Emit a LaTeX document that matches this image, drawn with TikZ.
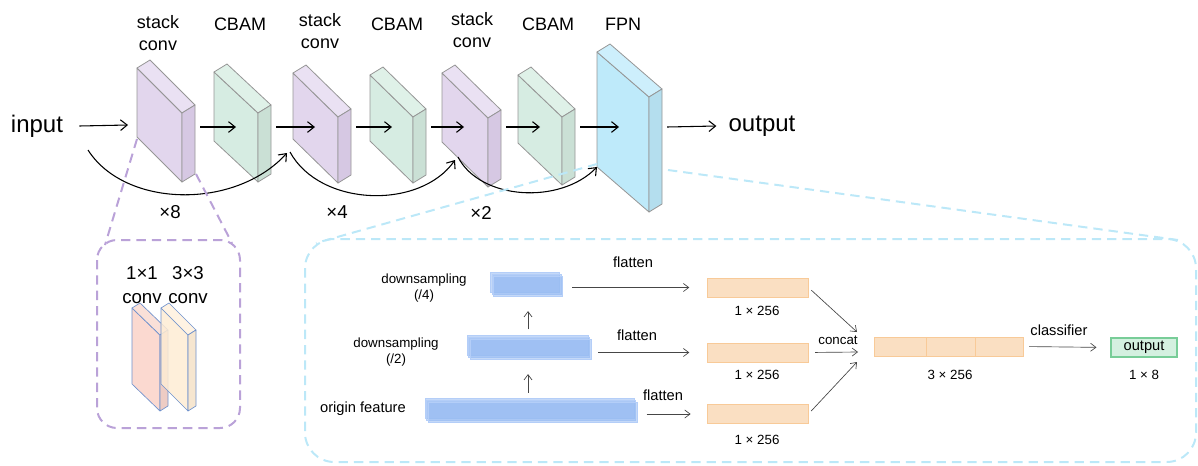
\documentclass[tikz,border=0pt]{standalone}
\usepackage{fontspec}
\setmainfont{Liberation Sans}
\usetikzlibrary{arrows.meta}

\definecolor{purF}{RGB}{226,214,237}
\definecolor{purT}{RGB}{234,225,243}
\definecolor{purS}{RGB}{214,200,227}
\definecolor{grnF}{RGB}{214,236,226}
\definecolor{grnT}{RGB}{223,241,232}
\definecolor{grnS}{RGB}{202,224,213}
\definecolor{bluF}{RGB}{190,234,250}
\definecolor{bluT}{RGB}{205,239,252}
\definecolor{bluS}{RGB}{180,222,238}
\definecolor{pnkF}{RGB}{251,217,208}
\definecolor{pnkT}{RGB}{250,224,216}
\definecolor{pnkS}{RGB}{238,204,196}
\definecolor{orgF}{RGB}{254,236,212}
\definecolor{orgT}{RGB}{255,241,222}
\definecolor{orgS}{RGB}{245,226,200}
\definecolor{slabline}{RGB}{150,150,150}
\definecolor{thinline}{RGB}{110,145,205}
\definecolor{purdash}{RGB}{186,162,216}
\definecolor{bludash}{RGB}{188,232,248}
\definecolor{barfill}{RGB}{150,186,242}
\definecolor{barline}{RGB}{180,206,248}
\definecolor{vecfill}{RGB}{250,223,194}
\definecolor{vecline}{RGB}{248,202,152}
\definecolor{outfill}{RGB}{212,240,224}
\definecolor{outline}{RGB}{120,205,152}
\definecolor{arrgray}{RGB}{70,70,70}

\begin{document}
\begin{tikzpicture}[x=0.75pt, y=-0.75pt,
  every node/.style={font=\fontsize{13.5}{16.5}\selectfont, inner sep=0pt},
  slab/.style={draw=slabline, line width=0.6pt, line join=round},
  thinslab/.style={draw=thinline, line width=0.5pt, line join=round},
  arr/.style={-{Straight Barb[length=5pt,width=8pt]}, line width=0.8pt},
  sarr/.style={-{Straight Barb[length=4pt,width=6pt]}, line width=0.5pt, draw=arrgray},
  sm/.style={font=\fontsize{10}{12.5}\selectfont, align=center},
  md/.style={font=\fontsize{11}{13}\selectfont},
  bar/.style={fill=barfill, fill opacity=0.55, draw=barline, line width=0.6pt, minimum height=15pt},
  vec/.style={fill=vecfill, draw=vecline, line width=0.6pt, minimum width=75.75pt, minimum height=14.25pt},
  pdash/.style={draw=purdash, line width=1.5pt, dash pattern=on 7pt off 4.5pt},
  bdash/.style={draw=bludash, line width=1.5pt, dash pattern=on 7pt off 4.5pt}]
\useasboundingbox (0,0) rectangle (1198,465);

% backbone slabs
\foreach \x/\y/\w/\d/\h/\col [count=\i] in {137/68/45/45/69/pur, 214/72/44/41/69/grn,
    293/73/45/44/66/pur, 370/75/43/42/66/grn, 442/73/46/45/69/pur, 518/75/44/42/68/grn,
    597/52/52/45/115/blu}{
  \filldraw[slab, fill=\col F] (\x,\y) -- ++(\w,\d) -- ++(0,\h) -- ++(-\w,-\d) -- cycle;
  \filldraw[slab, fill=\col T] (\x,\y) -- ++(13,-8) -- ++(\w,\d) -- ++(-13,8) -- cycle;
  \filldraw[slab, fill=\col S] (\x+\w,\y+\d) -- ++(13,-8) -- ++(0,\h) -- ++(-13,8) -- cycle;
  \coordinate (e\i) at (\x+22,127);
  \coordinate (x\i) at (\x+\w+18,127);
}

\node (t1) at (158,33) [align=center] {stack\\conv};
\node (t2) at (240,24) {CBAM};
\node (t3) at (320,31) [align=center] {stack\\conv};
\node (t4) at (397,24) {CBAM};
\node (t5) at (472,30) [align=center] {stack\\conv};
\node (t6) at (548,24) {CBAM};
\node (t7) at (623,24) {FPN};

\node[font=\fontsize{18}{22}\selectfont] (inp) at (37,126) {input};
\node[font=\fontsize{18}{22}\selectfont] (outp) at (762,126) {output};

\coordinate (s1) at (128,125);
\draw[arr] ([xshift=12pt]inp.east) -- (s1);
\foreach \a/\b in {1/2,2/3,3/4,4/5,5/6,6/7}
  \draw[arr] (x\a) -- (e\b);
\draw[arr] (x7) -- ([xshift=-9pt]outp.west);

% skip connections
\coordinate (r1) at (88,150);  \coordinate (q1) at (287,153);
\coordinate (r2) at (290,152); \coordinate (q2) at (455,160);
\coordinate (r3) at (458,157); \coordinate (q3) at (597,167);
\draw[arr] (r1) .. controls (125,208) and (235,210) .. (q1);
\draw[arr] (r2) .. controls (320,207) and (420,210) .. (q2);
\draw[arr] (r3) .. controls (480,200) and (560,205) .. (q3);

\node[font=\fontsize{14}{16}\selectfont] (m8) at (170,212) {×8};
\node[font=\fontsize{14}{16}\selectfont] (m4) at (337,212) {×4};
\node[font=\fontsize{14}{16}\selectfont] (m2) at (481,213) {×2};

% stack conv detail
\coordinate (pa) at (137,139); \coordinate (pb) at (105,245);
\coordinate (pc) at (196,174); \coordinate (pd) at (232,243);
\draw[pdash] (pa) -- (pb);
\draw[pdash] (pc) -- (pd);
\draw[pdash, rounded corners=15pt] (97,240) rectangle (240,428);
\foreach \x/\w/\col/\op in {132/28/pnk/1, 161/27/org/0.85}{
  \filldraw[thinslab, fill=\col F, fill opacity=\op] (\x,308) -- ++(\w,27) -- ++(0,76) -- ++(-\w,-27) -- cycle;
  \filldraw[thinslab, fill=\col T, fill opacity=\op] (\x,308) -- ++(8,-5) -- ++(\w,27) -- ++(-8,5) -- cycle;
  \filldraw[thinslab, fill=\col S, fill opacity=\op] (\x+\w,335) -- ++(8,-5) -- ++(0,76) -- ++(-8,5) -- cycle;
}
\node[font=\fontsize{14}{18}\selectfont, align=center] (k1) at (142,285) {1×1\\conv};
\node[font=\fontsize{14}{18}\selectfont, align=center] (k3) at (188,285) {3×3\\conv};

% FPN detail
\coordinate (fa) at (597,164); \coordinate (fb) at (316,243);
\coordinate (fc) at (668,170); \coordinate (fd) at (1178,240);
\draw[bdash] (fa) -- (fb);
\draw[bdash] (fc) -- (fd);
\draw[bdash, rounded corners=22pt] (305,239) rectangle (1196,462);

\foreach \n/\cx/\cy/\bw in {b1/528/286/69, b2/530.5/349/121, b3/532.5/412.5/209}{
  \foreach \o in {-3,-1.5}
    \node[bar, minimum width=\bw*0.75pt] at (\cx+\o,\cy+\o*1.3) {};
  \node[bar, minimum width=\bw*0.75pt] (\n) at (\cx,\cy) {};
}
\node[sm] (d4) at (424,288) {downsampling\\(/4)};
\node[sm] (d2) at (396,352) {downsampling\\(/2)};
\node[md] (of) at (363,409) {origin feature};
\draw[sarr, shorten <=7pt, shorten >=11pt] (b2.north -| b1.south) -- (b1.south);
\draw[sarr, shorten <=7pt, shorten >=11pt] (b3.north -| b1.south) -- (b2.south -| b1.south);

\node[vec] (f1) at (757.5,287.5) {};
\node[vec] (f2) at (757.5,352.5) {};
\node[vec] (f3) at (757.5,414) {};
\draw[sarr, shorten <=7pt, shorten >=13pt] (b1.east |- f1) -- (f1.west);
\draw[sarr, shorten <=5pt, shorten >=13pt] (b2.east |- f2) -- (f2.west);
\draw[sarr, shorten <=7pt, shorten >=12pt] (b3.east |- f3) -- (f3.west);
\node[md] (fl1) at (633,262) {flatten};
\node[md] (fl2) at (637,335) {flatten};
\node[md] (fl3) at (663,395) {flatten};
\node[sm] (n1) at (757,311) {1 × 256};
\node[sm] (n2) at (757,375) {1 × 256};
\node[sm] (n3) at (757,440) {1 × 256};

\node[vec, minimum width=111.75pt] (cat) at (948.5,346.5) {};
\draw[vecline, line width=0.6pt] (926,337) -- (926,356) (975,337) -- (975,356);
\node[sm] (n4) at (950,375) {3 × 256};
\coordinate (c1) at (857,332); \coordinate (c2) at (858,352); \coordinate (c3) at (857,362);
\draw[sarr, shorten <=3pt] (f1.east) -- (c1);
\draw[sarr, shorten <=5pt] (f2.east) -- (c2);
\draw[sarr, shorten <=3pt] (f3.east) -- (c3);
\node[sm] (cc) at (838,340) {concat};

\node[fill=outfill, draw=outline, line width=0.8pt, minimum width=49.5pt, minimum height=14.25pt, md] (res) at (1144,347.5) {output};
\node[sm] (n5) at (1144,375) {1 × 8};
\draw[sarr, shorten <=4.5pt, shorten >=10.5pt] (cat.east) -- (res.west);
\node[md] (cl) at (1059,330) {classifier};
\end{tikzpicture}
\end{document}
